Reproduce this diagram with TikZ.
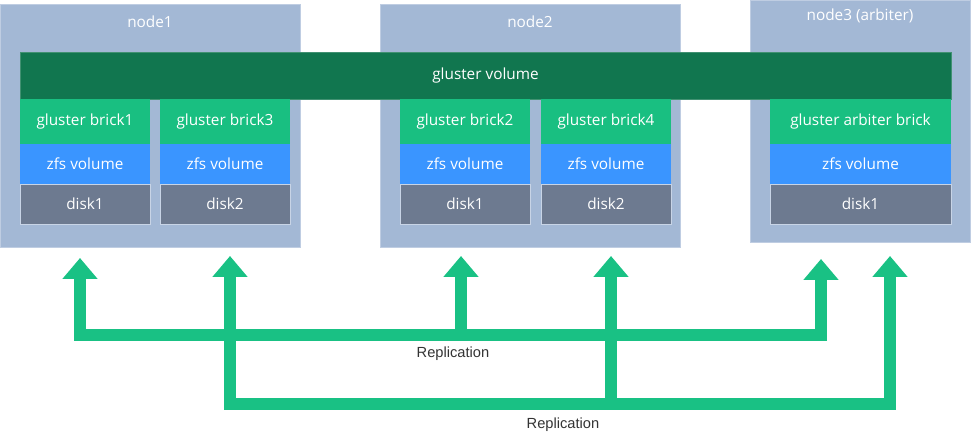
\documentclass[tikz,border=0pt]{standalone}
\usepackage{fontspec}
\setmainfont{Open Sans}
\newfontfamily\replfont{Liberation Sans}
\usetikzlibrary{arrows.meta}

\definecolor{hostblue}{HTML}{A3B8D5}
\definecolor{volgreen}{HTML}{11764F}
\definecolor{brickgreen}{HTML}{19BF81}
\definecolor{zfsblue}{HTML}{3A95FF}
\definecolor{diskgray}{HTML}{6D7A90}
\definecolor{replgreen}{HTML}{19C184}
\definecolor{textgray}{HTML}{333333}

\tikzset{
    box/.style={rectangle, inner sep=0pt, text=white, font=\fontsize{11.5}{13}\selectfont},
    host/.style={box, fill=hostblue, draw=hostblue!70!white, line width=0.5pt, minimum width=225pt, minimum height=182.25pt},
    volume/.style={box, fill=volgreen, draw=volgreen!80!white, line width=0.5pt, minimum width=698.25pt, minimum height=35.25pt},
    brick/.style={box, fill=brickgreen, minimum width=97.5pt, minimum height=33.75pt},
    zfs/.style={box, fill=zfsblue, minimum width=97.5pt, minimum height=30pt},
    disk/.style={box, fill=diskgray, draw=hostblue!60!white, line width=0.4pt, minimum width=97.5pt, minimum height=30pt},
    wide/.style={minimum width=135.75pt},
    repl/.style={draw=replgreen, line width=9pt, line join=miter},
    replabel/.style={text=textgray, font=\replfont\fontsize{11}{12}\selectfont},
    >={Triangle[width=25.5pt,length=15.75pt]}
}

\begin{document}
\begin{tikzpicture}[x=0.75pt, y=-0.75pt]
        \useasboundingbox (0, 0) rectangle (971, 434);

        % hosts
        \node[host] at (150, 125.5)(n1){};
        \node[host] at (530, 125.5)(n2){};
        \node[host, minimum width=165pt, minimum height=181.5pt] at (860, 121)(n3){};
        \node[box] at (150, 22)(l1){node1};
        \node[box] at (530, 22)(l2){node2};
        \node[box] at (860, 16)(l3){node3 (arbiter)};

        \node[volume] at (485.5, 75.5)(vol){gluster volume};

        % node1
        \node[brick] at (85, 121.5)(b1){gluster brick1};
        \node[zfs] at (85, 164)(z1){zfs volume};
        \node[disk] at (85, 204)(d1){disk1};
        \node[brick] at (225, 121.5)(b3){gluster brick3};
        \node[zfs] at (225, 164)(z3){zfs volume};
        \node[disk] at (225, 204)(d3){disk2};

        % node2
        \node[brick] at (465, 121.5)(b2){gluster brick2};
        \node[zfs] at (465, 164)(z2){zfs volume};
        \node[disk] at (465, 204)(d2){disk1};
        \node[brick] at (606, 121.5)(b4){gluster brick4};
        \node[zfs] at (606, 164)(z4){zfs volume};
        \node[disk] at (606, 204)(d4){disk2};

        % node3
        \node[brick, wide] at (860.5, 121.5)(ba){gluster arbiter brick};
        \node[zfs, wide] at (860.5, 164)(za){zfs volume};
        \node[disk, wide] at (860.5, 204)(da){disk1};

        % replication
        \coordinate (ta1) at (80, 258);
        \coordinate (ta2) at (461, 256);
        \coordinate (ta3) at (821, 259);
        \coordinate (ra1) at (80, 335);
        \coordinate (ra2) at (461, 335);
        \coordinate (ra3) at (821, 335);
        \coordinate (tb1) at (230, 256);
        \coordinate (tb2) at (611, 256);
        \coordinate (tb3) at (890, 256);
        \coordinate (rb1) at (230, 404);
        \coordinate (rb2) at (611, 404);
        \coordinate (rb3) at (890, 404);

        \draw[repl, <->] (tb1) -- (rb1) -- (rb3) -- (tb3);
        \draw[repl, ->] (rb2) -- (tb2);
        \draw[repl, <->] (ta1) -- (ra1) -- (ra3) -- (ta3);
        \draw[repl, ->] (ra2) -- (ta2);

        \node[replabel] at (453, 354)(rla){Replication};
        \node[replabel] at (563, 425)(rlb){Replication};
    \end{tikzpicture}
\end{document}
